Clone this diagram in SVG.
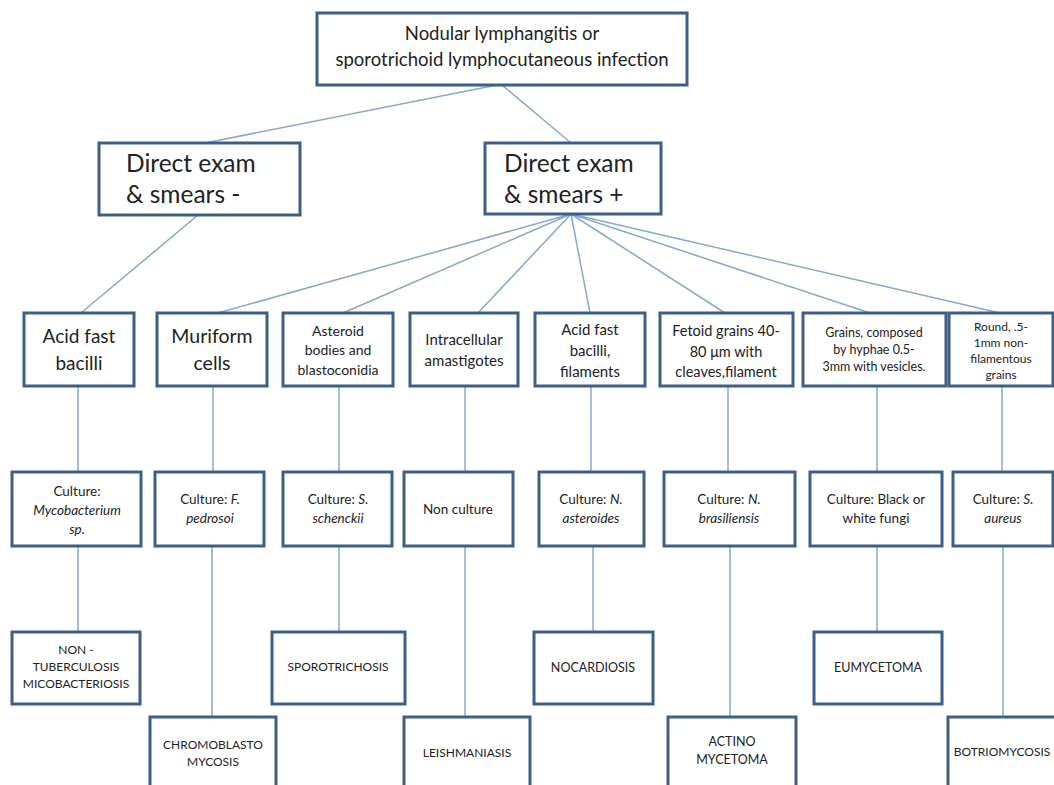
<svg xmlns="http://www.w3.org/2000/svg" width="1054" height="785" viewBox="0 0 1054 785">
<style>
.b{fill:#fff;stroke:#3d5f86;stroke-width:3}
.c line{stroke:#86a8d0;stroke-width:1.5}
text{font-family:Lato,"Liberation Sans",sans-serif;fill:#222;text-anchor:middle}
.i{font-style:italic}
</style>
<rect width="1054" height="785" fill="#fff"/>
<g class="c" id="connectors">
<line x1="497" y1="85" x2="205" y2="143"/>
<line x1="502" y1="85" x2="571" y2="143"/>
<line x1="198" y1="215" x2="81" y2="313"/>
<line x1="571" y1="214" x2="218" y2="313"/>
<line x1="571" y1="214" x2="343" y2="313"/>
<line x1="571" y1="214" x2="478" y2="313"/>
<line x1="571" y1="214" x2="590" y2="313"/>
<line x1="571" y1="214" x2="725" y2="313"/>
<line x1="571" y1="214" x2="870" y2="313"/>
<line x1="571" y1="214" x2="1000" y2="313"/>
<line x1="78" y1="386" x2="78" y2="472"/>
<line x1="213" y1="386" x2="213" y2="472"/>
<line x1="339" y1="386" x2="339" y2="472"/>
<line x1="465" y1="386" x2="465" y2="472"/>
<line x1="591" y1="386" x2="591" y2="472"/>
<line x1="728" y1="386" x2="728" y2="472"/>
<line x1="877" y1="386" x2="877" y2="472"/>
<line x1="1002" y1="386" x2="1002" y2="472"/>
<line x1="78" y1="546" x2="78" y2="632"/>
<line x1="212" y1="546" x2="212" y2="717"/>
<line x1="339" y1="546" x2="339" y2="632"/>
<line x1="465" y1="546" x2="465" y2="717"/>
<line x1="593" y1="546" x2="593" y2="632"/>
<line x1="730" y1="546" x2="730" y2="717"/>
<line x1="877" y1="546" x2="877" y2="632"/>
<line x1="1003" y1="546" x2="1003" y2="717"/>
</g>
<g id="root"><rect class="b" x="317" y="13" width="370" height="72"/>
<text x="502" y="40" font-size="18.5">Nodular lymphangitis or</text>
<text x="502" y="66" font-size="18.5">sporotrichoid lymphocutaneous infection</text></g>
<g id="neg"><rect class="b" x="99" y="143" width="201" height="72"/>
<text x="126" y="172" font-size="24.5" style="text-anchor:start">Direct exam</text>
<text x="126" y="203" font-size="24.5" style="text-anchor:start">&amp; smears -</text></g>
<g id="pos"><rect class="b" x="485" y="143" width="176" height="71"/>
<text x="504" y="172" font-size="24.5" style="text-anchor:start">Direct exam</text>
<text x="504" y="203" font-size="24.5" style="text-anchor:start">&amp; smears +</text></g>

<g id="afb"><rect class="b" x="24" y="313" width="110" height="73"/>
<text x="79" y="343" font-size="19">Acid fast</text><text x="79" y="370" font-size="19">bacilli</text></g>
<g id="muri"><rect class="b" x="157" y="313" width="110" height="73"/>
<text x="212" y="343" font-size="19.5">Muriform</text><text x="212" y="370" font-size="19.5">cells</text></g>
<g id="aster"><rect class="b" x="283" y="313" width="110" height="73"/>
<text x="338" y="336" font-size="14">Asteroid</text><text x="338" y="355" font-size="14">bodies and</text><text x="338" y="375" font-size="14">blastoconidia</text></g>
<g id="intra"><rect class="b" x="410" y="313" width="108" height="73"/>
<text x="464" y="345" font-size="15">Intracellular</text><text x="464" y="366" font-size="15">amastigotes</text></g>
<g id="afbf"><rect class="b" x="535" y="313" width="110" height="73"/>
<text x="590" y="335" font-size="15">Acid fast</text><text x="590" y="356" font-size="15">bacilli,</text><text x="590" y="377" font-size="15">filaments</text></g>
<g id="fetoid"><rect class="b" x="660" y="313" width="133" height="73"/>
<text x="726" y="336" font-size="14.5">Fetoid grains 40-</text><text x="726" y="357" font-size="14.5">80 μm with</text><text x="726" y="377" font-size="14.5">cleaves,filament</text></g>
<g id="grains"><rect class="b" x="803" y="313" width="143" height="73"/>
<text x="874" y="337" font-size="12.5">Grains, composed</text><text x="874" y="354" font-size="12.5">by hyphae  0.5-</text><text x="874" y="371" font-size="12.5">3mm with vesicles.</text></g>
<g id="round"><rect class="b" x="949" y="313" width="104" height="73"/>
<text x="1001" y="331" font-size="12">Round, .5-</text><text x="1001" y="347" font-size="12">1mm non-</text><text x="1001" y="363" font-size="12">filamentous</text><text x="1001" y="379" font-size="12">grains</text></g>

<g id="c1"><rect class="b" x="12" y="472" width="129" height="74"/>
<text x="77" y="496" font-size="13.5">Culture:</text><text x="77" y="515" font-size="13.5" class="i">Mycobacterium</text><text x="77" y="534" font-size="13.5" class="i">sp.</text></g>
<g id="c2"><rect class="b" x="155" y="472" width="109" height="74"/>
<text x="210" y="504" font-size="13.5">Culture: <tspan class="i">F.</tspan></text><text x="210" y="523" font-size="13.5" class="i">pedrosoi</text></g>
<g id="c3"><rect class="b" x="283" y="472" width="109" height="74"/>
<text x="338" y="504" font-size="13.5">Culture: <tspan class="i">S.</tspan></text><text x="338" y="523" font-size="13.5" class="i">schenckii</text></g>
<g id="c4"><rect class="b" x="404" y="472" width="109" height="74"/>
<text x="458" y="514" font-size="13.5">Non culture</text></g>
<g id="c5"><rect class="b" x="539" y="472" width="105" height="74"/>
<text x="591" y="504" font-size="13.5">Culture: <tspan class="i">N.</tspan></text><text x="591" y="523" font-size="13.5" class="i">asteroides</text></g>
<g id="c6"><rect class="b" x="664" y="472" width="131" height="74"/>
<text x="729" y="504" font-size="13.5">Culture: <tspan class="i">N.</tspan></text><text x="729" y="523" font-size="13.5" class="i">brasiliensis</text></g>
<g id="c7"><rect class="b" x="810" y="472" width="132" height="74"/>
<text x="876" y="504" font-size="13.5">Culture:  Black or</text><text x="876" y="523" font-size="13.5">white fungi</text></g>
<g id="c8"><rect class="b" x="953" y="472" width="100" height="74"/>
<text x="1003" y="504" font-size="13.5">Culture: <tspan class="i">S.</tspan></text><text x="1003" y="523" font-size="13.5" class="i">aureus</text></g>

<g id="d1"><rect class="b" x="12" y="632" width="128" height="72"/>
<text x="76" y="654" font-size="12">NON -</text><text x="76" y="671" font-size="12">TUBERCULOSIS</text><text x="76" y="688" font-size="12">MICOBACTERIOSIS</text></g>
<g id="d2"><rect class="b" x="150" y="717" width="126" height="80"/>
<text x="213" y="749" font-size="12">CHROMOBLASTO</text><text x="213" y="766" font-size="12">MYCOSIS</text></g>
<g id="d3"><rect class="b" x="272" y="632" width="133" height="72"/>
<text x="338" y="671" font-size="12">SPOROTRICHOSIS</text></g>
<g id="d4"><rect class="b" x="404" y="717" width="126" height="80"/>
<text x="467" y="757" font-size="12">LEISHMANIASIS</text></g>
<g id="d5"><rect class="b" x="534" y="632" width="119" height="72"/>
<text x="593" y="672" font-size="12.5">NOCARDIOSIS</text></g>
<g id="d6"><rect class="b" x="668" y="717" width="128" height="80"/>
<text x="732" y="746" font-size="12.5">ACTINO</text><text x="732" y="764" font-size="12.5">MYCETOMA</text></g>
<g id="d7"><rect class="b" x="814" y="632" width="128" height="72"/>
<text x="878" y="672" font-size="12.5">EUMYCETOMA</text></g>
<g id="d8"><rect class="b" x="948" y="717" width="110" height="80"/>
<text x="1002" y="756" font-size="12">BOTRIOMYCOSIS</text></g>
</svg>
